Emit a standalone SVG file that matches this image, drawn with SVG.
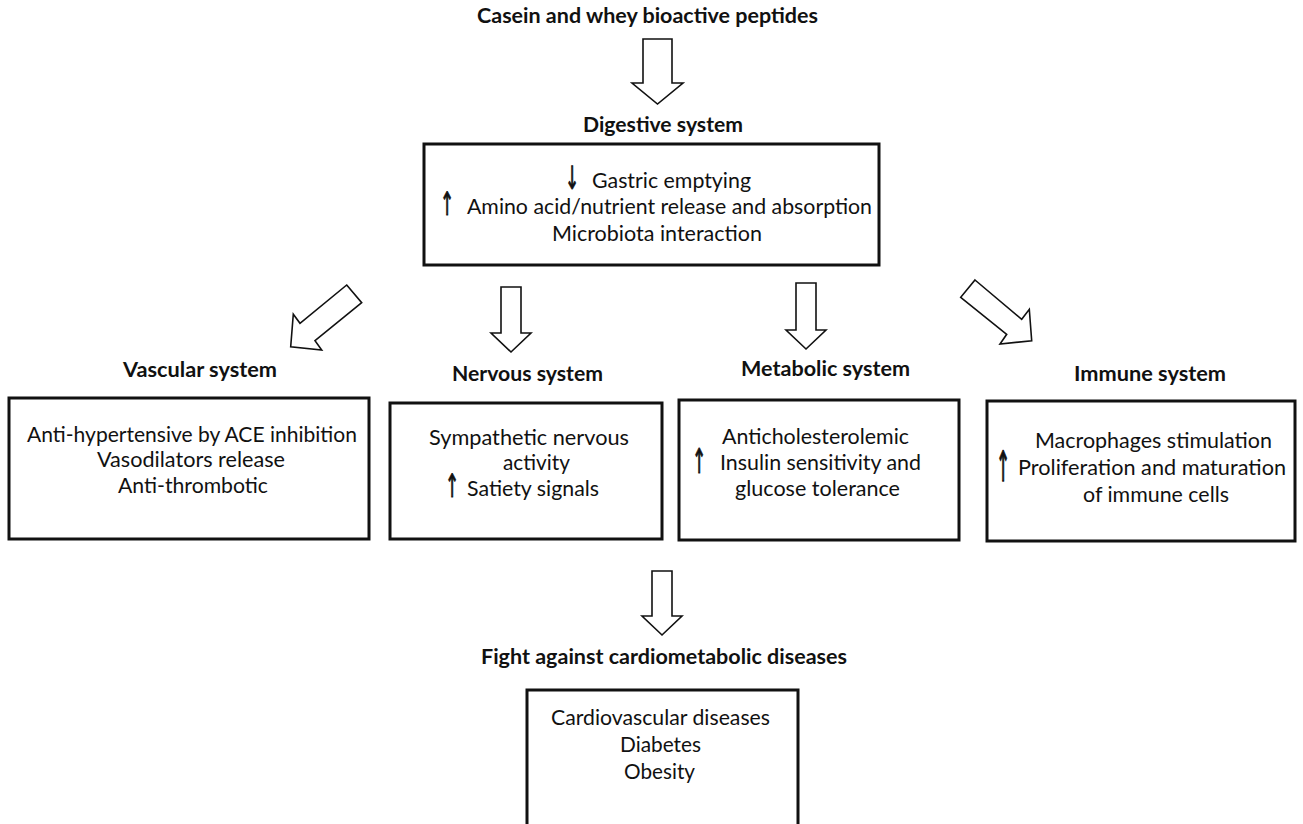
<svg xmlns="http://www.w3.org/2000/svg" width="1303" height="824" viewBox="0 0 1303 824">
<style>
  .t { font-family: Lato, "Liberation Sans", sans-serif; font-size: 21px; fill: #111; }
  .b { font-family: Lato, "Liberation Sans", sans-serif; font-size: 21px; font-weight: bold; fill: #111; }
  .a { font-family: "DejaVu Sans", sans-serif; font-size: 20px; fill: #111; stroke: #111; stroke-width: 0.6; text-anchor: middle; }
  .box { fill: #fff; stroke: #111; stroke-width: 3; }
  .arw { fill: #fff; stroke: #111; stroke-width: 1.6; stroke-linejoin: miter; }
</style>
<rect width="1303" height="824" fill="#fff"/>

<g id="title">
  <text class="b" x="477" y="23" textLength="341" lengthAdjust="spacingAndGlyphs">Casein and whey bioactive peptides</text>
</g>

<g id="connectors">
  <polygon class="arw" points="643,39 672,39 672,83 683,83 657.5,104 632,83 643,83"/>
  <polygon class="arw" points="346.7,285 361.7,302.7 315,340.7 321.7,350 290.7,346.7 293.3,314.3 300,323.3"/>
  <polygon class="arw" points="501,287 521,287 521,333 531,333 511,352 491,333 501,333"/>
  <polygon class="arw" points="796,283 816,283 816,330 826,330 806,349 786,330 796,330"/>
  <polygon class="arw" points="975,280 1021.7,319.3 1029.3,309.3 1031.7,340.7 1000,344 1006.7,334.3 960.7,297.3"/>
  <polygon class="arw" points="652,571 672,571 672,616 682,616 662,635 642,616 652,616"/>
</g>

<g id="digestive">
  <text class="b" x="583" y="132" textLength="160" lengthAdjust="spacingAndGlyphs">Digestive system</text>
  <rect class="box" x="424" y="144" width="455" height="121"/>
  <text class="a" transform="translate(572,189) scale(0.85,1.6)">↓</text>
  <text class="t" x="592" y="188" textLength="159" lengthAdjust="spacingAndGlyphs">Gastric emptying</text>
  <text class="a" transform="translate(447,215) scale(0.85,1.6)">↑</text>
  <text class="t" x="467" y="214" textLength="405" lengthAdjust="spacingAndGlyphs">Amino acid/nutrient release and absorption</text>
  <text class="t" x="552" y="241" textLength="210" lengthAdjust="spacingAndGlyphs">Microbiota interaction</text>
</g>

<g id="vascular">
  <text class="b" x="123" y="377" textLength="154" lengthAdjust="spacingAndGlyphs">Vascular system</text>
  <rect class="box" x="9" y="398" width="360" height="141"/>
  <text class="t" x="27" y="442" textLength="330" lengthAdjust="spacingAndGlyphs">Anti-hypertensive by ACE inhibition</text>
  <text class="t" x="97" y="467" textLength="188" lengthAdjust="spacingAndGlyphs">Vasodilators release</text>
  <text class="t" x="118" y="493" textLength="150" lengthAdjust="spacingAndGlyphs">Anti-thrombotic</text>
</g>

<g id="nervous">
  <text class="b" x="452" y="381" textLength="151" lengthAdjust="spacingAndGlyphs">Nervous system</text>
  <rect class="box" x="390" y="403" width="272" height="136"/>
  <text class="t" x="429" y="445" textLength="200" lengthAdjust="spacingAndGlyphs">Sympathetic nervous</text>
  <text class="t" x="503" y="470" textLength="67" lengthAdjust="spacingAndGlyphs">activity</text>
  <text class="a" transform="translate(452,497) scale(0.85,1.6)">↑</text>
  <text class="t" x="467" y="496" textLength="132" lengthAdjust="spacingAndGlyphs">Satiety signals</text>
</g>

<g id="metabolic">
  <text class="b" x="741" y="376" textLength="169" lengthAdjust="spacingAndGlyphs">Metabolic system</text>
  <rect class="box" x="679" y="400" width="280" height="140"/>
  <text class="t" x="722" y="444" textLength="187" lengthAdjust="spacingAndGlyphs">Anticholesterolemic</text>
  <text class="a" transform="translate(699,473) scale(0.85,1.7)">↑</text>
  <text class="t" x="720" y="470" textLength="201" lengthAdjust="spacingAndGlyphs">Insulin sensitivity and</text>
  <text class="t" x="735" y="496" textLength="165" lengthAdjust="spacingAndGlyphs">glucose tolerance</text>
</g>

<g id="immune">
  <text class="b" x="1074" y="381" textLength="152" lengthAdjust="spacingAndGlyphs">Immune system</text>
  <rect class="box" x="987" y="401" width="308" height="140"/>
  <text class="t" x="1035" y="448" textLength="237" lengthAdjust="spacingAndGlyphs">Macrophages stimulation</text>
  <text class="a" transform="translate(1003,481) scale(0.85,2.1)">↑</text>
  <text class="t" x="1018" y="475" textLength="268" lengthAdjust="spacingAndGlyphs">Proliferation and maturation</text>
  <text class="t" x="1083" y="502" textLength="146" lengthAdjust="spacingAndGlyphs">of immune cells</text>
</g>

<g id="diseases">
  <text class="b" x="481" y="664" textLength="366" lengthAdjust="spacingAndGlyphs">Fight against cardiometabolic diseases</text>
  <rect class="box" x="527" y="690" width="271" height="150"/>
  <text class="t" x="551" y="725" textLength="219" lengthAdjust="spacingAndGlyphs">Cardiovascular diseases</text>
  <text class="t" x="620" y="752" textLength="81" lengthAdjust="spacingAndGlyphs">Diabetes</text>
  <text class="t" x="624" y="779" textLength="71" lengthAdjust="spacingAndGlyphs">Obesity</text>
</g>
</svg>
